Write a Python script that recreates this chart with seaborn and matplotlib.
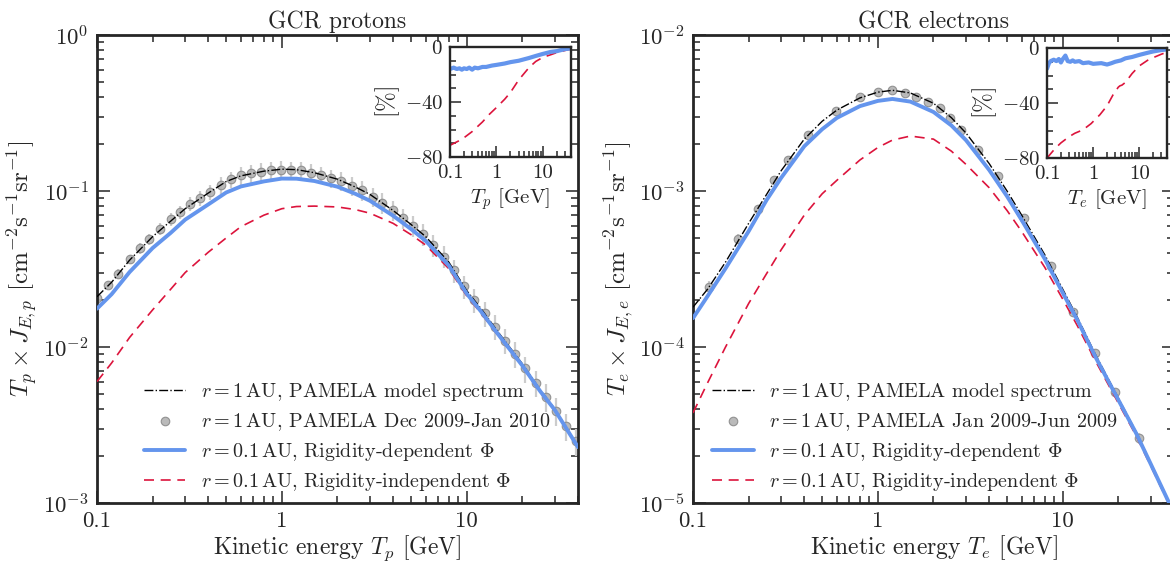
import numpy as np
import matplotlib
matplotlib.use("Agg")
import matplotlib.pyplot as plt
import matplotlib.ticker as mticker
import seaborn as sns

sns.set_style("ticks")
plt.rcParams.update({
    "font.family": "serif",
    "font.serif": ["cmr10"],
    "mathtext.fontset": "cm",
    "axes.formatter.use_mathtext": True,
    "axes.unicode_minus": False,
})

BLUE = "#6495ED"
RED = "#DC143C"

# ---------------- protons ----------------
T_grid = [0.1, 0.12, 0.15, 0.2, 0.25, 0.3, 0.4, 0.5, 0.6, 0.8, 1.0, 1.2, 1.5, 2.0,
          2.5, 3.0, 4.0, 5.0, 6.0, 8.0, 10.0, 12.0, 15.0, 20.0, 25.0, 30.0, 40.0]

p_model = [0.021, 0.026, 0.036, 0.051, 0.064, 0.077, 0.097, 0.115, 0.125, 0.134, 0.138,
           0.137, 0.131, 0.119, 0.106, 0.095, 0.075, 0.061, 0.051, 0.035, 0.023, 0.0175,
           0.0122, 0.0078, 0.0053, 0.0040, 0.0023]
p_rigdep = [0.0176, 0.0218, 0.0302, 0.0431, 0.0538, 0.0655, 0.0820, 0.0978, 0.1069,
            0.1152, 0.1201, 0.1199, 0.1159, 0.1065, 0.0959, 0.0865, 0.0694, 0.0570,
            0.0479, 0.0333, 0.0220, 0.0168, 0.0118, 0.0076, 0.0052, 0.00394, 0.00228]
p_rigind = [0.0060, 0.0079, 0.0115, 0.0173, 0.0234, 0.0300, 0.0405, 0.0500, 0.0590,
            0.0700, 0.0770, 0.0795, 0.0800, 0.0790, 0.0760, 0.0720, 0.0620, 0.0525,
            0.0450, 0.0318, 0.0213, 0.0164, 0.0116, 0.0075, 0.0051, 0.0039, 0.00227]

p_data_T = [0.10, 0.115, 0.13, 0.15, 0.17, 0.19, 0.22, 0.25, 0.28, 0.32, 0.36, 0.41,
            0.47, 0.53, 0.60, 0.68, 0.77, 0.87, 0.99, 1.12, 1.27, 1.44, 1.63, 1.85,
            2.1, 2.4, 2.7, 3.1, 3.5, 4.0, 4.5, 5.1, 5.8, 6.6, 7.5, 8.5, 9.7, 11.0,
            12.5, 14.2, 16.1, 18.3, 20.8, 23.6, 26.8, 30.4, 34.5, 39.2]
p_data_v = [0.0205, 0.025, 0.0295, 0.0365, 0.043, 0.049, 0.057, 0.066, 0.073, 0.083,
            0.090, 0.098, 0.109, 0.119, 0.126, 0.130, 0.133, 0.136, 0.137, 0.136,
            0.136, 0.131, 0.127, 0.121, 0.116, 0.108, 0.101, 0.092, 0.084, 0.075,
            0.067, 0.060, 0.053, 0.045, 0.038, 0.031, 0.0245, 0.020, 0.0165, 0.0135,
            0.0110, 0.0090, 0.0073, 0.0059, 0.0048, 0.0039, 0.0031, 0.0025]
p_data_err = [0.06, 0.06, 0.07, 0.07, 0.08, 0.08, 0.09, 0.09, 0.10, 0.10, 0.11, 0.11,
              0.12, 0.12, 0.13, 0.13, 0.13, 0.13, 0.13, 0.13, 0.13, 0.13, 0.13, 0.13,
              0.14, 0.14, 0.14, 0.14, 0.15, 0.15, 0.15, 0.15, 0.16, 0.16, 0.16, 0.17,
              0.17, 0.17, 0.18, 0.18, 0.18, 0.19, 0.19, 0.19, 0.20, 0.20, 0.20, 0.20]

pi_blue_T = [0.1, 0.12, 0.14, 0.16, 0.18, 0.2, 0.23, 0.26, 0.3, 0.34, 0.4, 0.5, 0.6,
             0.8, 1.0, 1.5, 2.0, 3.0, 5.0, 7.0, 10.0, 15.0, 20.0, 30.0, 40.0]
pi_blue = [-16, -15, -16, -15.5, -16.5, -15.5, -16, -15, -16.5, -15, -15.5, -14.5, -14.5,
           -13.5, -13, -12, -11, -10, -8, -6.5, -5, -3.5, -3, -1.5, -1]
pi_red_T = [0.1, 0.15, 0.2, 0.3, 0.5, 0.7, 1.0, 1.5, 2.0, 3.0, 5.0, 7.0, 10.0, 15.0,
            20.0, 30.0, 40.0]
pi_red = [-71.5, -68.5, -66, -61.5, -54.5, -49, -44, -38, -33, -24, -15, -10.5, -7.5,
          -5.5, -4, -2.5, -1.5]

# ---------------- electrons ----------------
e_model = [1.8e-4, 2.35e-4, 3.5e-4, 6.2e-4, 9.5e-4, 1.35e-3, 2.15e-3, 2.8e-3, 3.3e-3,
           3.95e-3, 4.3e-3, 4.42e-3, 4.25e-3, 3.65e-3, 2.95e-3, 2.35e-3, 1.5e-3, 1.0e-3,
           7.0e-4, 3.9e-4, 2.35e-4, 1.55e-4, 9.0e-5, 4.7e-5, 2.85e-5, 1.8e-5, 8.7e-6]
e_rigdep = [1.53e-4, 2.12e-4, 3.19e-4, 5.52e-4, 8.74e-4, 1.215e-3, 1.935e-3, 2.49e-3,
            2.94e-3, 3.50e-3, 3.78e-3, 3.89e-3, 3.74e-3, 3.21e-3, 2.63e-3, 2.115e-3,
            1.365e-3, 9.25e-4, 6.51e-4, 3.67e-4, 2.23e-4, 1.49e-4, 8.69e-5, 4.58e-5,
            2.79e-5, 1.77e-5, 8.6e-6]
e_rigind = [3.78e-5, 5.9e-5, 1.0e-4, 1.9e-4, 2.95e-4, 4.2e-4, 7.0e-4, 9.6e-4, 1.17e-3,
            1.58e-3, 1.9e-3, 2.12e-3, 2.25e-3, 2.15e-3, 1.8e-3, 1.48e-3, 1.05e-3, 7.5e-4,
            5.5e-4, 3.24e-4, 2.03e-4, 1.37e-4, 8.19e-5, 4.37e-5, 2.69e-5, 1.72e-5, 8.44e-6]

e_data_T = [0.1225, 0.175, 0.224, 0.274, 0.327, 0.421, 0.595, 0.804, 1.0, 1.2, 1.41,
            1.6, 1.86, 2.16, 2.46, 2.83, 3.47, 4.48, 6.18, 8.63, 11.4, 14.9, 19.3, 25.9]
e_data_v = [2.44e-4, 4.92e-4, 7.63e-4, 1.18e-3, 1.58e-3, 2.29e-3, 3.26e-3, 3.98e-3,
            4.29e-3, 4.44e-3, 4.27e-3, 4.02e-3, 3.74e-3, 3.39e-3, 2.95e-3, 2.46e-3,
            1.83e-3, 1.24e-3, 6.68e-4, 3.32e-4, 1.68e-4, 9.12e-5, 5.17e-5, 2.6e-5]
e_data_err = [0.08, 0.07, 0.06, 0.05, 0.04, 0.04, 0.03, 0.03, 0.03, 0.03, 0.03, 0.03,
              0.03, 0.03, 0.03, 0.03, 0.03, 0.04, 0.04, 0.05, 0.05, 0.06, 0.06, 0.08]

ei_blue_T = [0.1, 0.11, 0.12, 0.14, 0.16, 0.18, 0.2, 0.22, 0.25, 0.28, 0.32, 0.36, 0.4,
             0.5, 0.6, 0.8, 1.0, 1.5, 2.0, 2.5, 3.0, 4.0, 5.0, 7.0, 10.0, 15.0, 20.0,
             30.0, 40.0]
ei_blue = [-15, -11, -9.5, -8.5, -9.5, -8, -10.5, -8, -5.5, -9.5, -10, -9, -10, -9.5,
           -11, -10.5, -11.5, -11, -12, -11, -10, -9, -7.5, -6.5, -5, -3.5, -2.5, -1.5, -1]
ei_red_T = [0.1, 0.15, 0.2, 0.3, 0.4, 0.6, 0.9, 1.4, 2.0, 2.7, 3.5, 3.8, 4.2, 5.0, 7.0,
            10.0, 15.0, 20.0, 30.0, 40.0]
ei_red = [-80, -73, -69, -64.5, -62, -59.5, -55, -48.5, -42, -34, -28.5, -27.5, -27, -25,
          -18.5, -13, -9, -7, -4.5, -3]

labels_p = [r"$r = 1\,$AU, PAMELA model spectrum",
            r"$r = 1\,$AU, PAMELA Dec 2009-Jan 2010",
            r"$r = 0.1\,$AU, Rigidity-dependent $\Phi$",
            r"$r = 0.1\,$AU, Rigidity-independent $\Phi$"]
labels_e = [r"$r = 1\,$AU, PAMELA model spectrum",
            r"$r = 1\,$AU, PAMELA Jan 2009-Jun 2009",
            r"$r = 0.1\,$AU, Rigidity-dependent $\Phi$",
            r"$r = 0.1\,$AU, Rigidity-independent $\Phi$"]


def main_panel(ax, model, dep, ind, dT, dv, derr, labels, ylim, yticks, ylabels,
               title, xlab, ylab, leg_x):
    dv = np.array(dv)
    derr = np.array(derr)
    ax.errorbar(dT, dv, yerr=dv * derr, fmt="none", ecolor="#cccccc", elinewidth=1.6,
                zorder=1)
    sns.scatterplot(x=dT, y=dv, ax=ax, s=38, color="#b3b3b3", edgecolor="#8a8a8a",
                    linewidth=0.8, alpha=0.9, zorder=2, label=labels[1])
    sns.lineplot(x=T_grid, y=model, ax=ax, color="black", linestyle="-.", linewidth=1.0,
                 zorder=3, label=labels[0])
    sns.lineplot(x=T_grid, y=ind, ax=ax, color=RED, linestyle=(0, (6, 4)), linewidth=1.2,
                 zorder=4, label=labels[3])
    sns.lineplot(x=T_grid, y=dep, ax=ax, color=BLUE, linewidth=2.8, zorder=5,
                 label=labels[2])
    ax.set_xscale("log")
    ax.set_yscale("log")
    ax.set_xlim(0.1, 40)
    ax.set_ylim(*ylim)
    ax.set_xticks([0.1, 1, 10])
    ax.set_xticklabels(["0.1", "1", "10"])
    ax.set_yticks(yticks)
    ax.set_yticklabels(ylabels)
    ax.xaxis.set_minor_locator(mticker.LogLocator(subs=np.arange(2, 10)))
    ax.yaxis.set_minor_locator(mticker.LogLocator(subs=np.arange(2, 10)))
    ax.xaxis.set_minor_formatter(mticker.NullFormatter())
    ax.yaxis.set_minor_formatter(mticker.NullFormatter())
    ax.tick_params(which="both", direction="in", top=True, right=True, width=1.1,
                   labelsize=16.5, pad=6)
    ax.tick_params(which="major", length=9)
    ax.tick_params(which="minor", length=5)
    for sp in ax.spines.values():
        sp.set_linewidth(2.0)
    ax.set_title(title, fontsize=17, pad=5)
    ax.set_xlabel(xlab, fontsize=17, labelpad=2)
    ax.set_ylabel(ylab, fontsize=18, labelpad=2)
    h, l = ax.get_legend_handles_labels()
    order = [l.index(x) for x in labels]
    ax.legend([h[i] for i in order], [l[i] for i in order], loc="lower left",
              bbox_to_anchor=(leg_x, 0.022), frameon=False, fontsize=14.5,
              handlelength=2.05, handletextpad=0.75, labelspacing=0.4, borderpad=0,
              borderaxespad=0)


def inset_panel(ax, bT, b, rT, r, xlab):
    sns.lineplot(x=rT, y=r, ax=ax, color=RED, linestyle=(0, (6, 4)), linewidth=1.2)
    sns.lineplot(x=bT, y=b, ax=ax, color=BLUE, linewidth=3.0)
    ax.set_xscale("log")
    ax.set_xlim(0.1, 40)
    ax.set_ylim(-80, 0)
    ax.set_xticks([0.1, 1, 10])
    ax.set_xticklabels(["0.1", "1", "10"])
    ax.set_yticks([0, -40, -80])
    ax.set_yticklabels(["$0$", "$-40$", "$-80$"])
    ax.yaxis.set_minor_locator(mticker.MultipleLocator(10))
    ax.xaxis.set_minor_locator(mticker.LogLocator(subs=np.arange(2, 10)))
    ax.xaxis.set_minor_formatter(mticker.NullFormatter())
    ax.tick_params(which="both", direction="in", width=1.1, labelsize=15, pad=5)
    ax.tick_params(which="major", length=8)
    ax.tick_params(which="minor", length=4.5)
    for sp in ax.spines.values():
        sp.set_linewidth(1.7)
    ax.set_xlabel(xlab, fontsize=15, labelpad=3)
    ax.set_ylabel(r"$[\%]$", fontsize=17, labelpad=2)


fig = plt.figure(figsize=(11.7, 5.67), dpi=100)
ax1 = fig.add_axes([0.0829, 0.1129, 0.4111, 0.8254])
ax2 = fig.add_axes([0.5923, 0.1129, 0.4111, 0.8254])

main_panel(ax1, p_model, p_rigdep, p_rigind, p_data_T, p_data_v, p_data_err, labels_p,
           (1e-3, 1), [1e-3, 1e-2, 1e-1, 1], [r"$10^{-3}$", r"$10^{-2}$", r"$10^{-1}$", r"$10^{0}$"],
           "GCR protons", r"Kinetic energy $T_p$ [GeV]",
           r"$T_p \times J_{E,p}$ [cm$^{-2}$s$^{-1}$sr$^{-1}$]", 0.098)
main_panel(ax2, e_model, e_rigdep, e_rigind, e_data_T, e_data_v, e_data_err, labels_e,
           (1e-5, 1e-2), [1e-5, 1e-4, 1e-3, 1e-2], [r"$10^{-5}$", r"$10^{-4}$", r"$10^{-3}$", r"$10^{-2}$"],
           "GCR electrons", r"Kinetic energy $T_e$ [GeV]",
           r"$T_e \times J_{E,e}$ [cm$^{-2}$s$^{-1}$sr$^{-1}$]", 0.04)

ins1 = fig.add_axes([0.3846, 0.7231, 0.1034, 0.194])
ins2 = fig.add_axes([0.8949, 0.7213, 0.1026, 0.194])
inset_panel(ins1, pi_blue_T, pi_blue, pi_red_T, pi_red, r"$T_p$ [GeV]")
inset_panel(ins2, ei_blue_T, ei_blue, ei_red_T, ei_red, r"$T_e$ [GeV]")

fig.savefig("out.png", dpi=100)
